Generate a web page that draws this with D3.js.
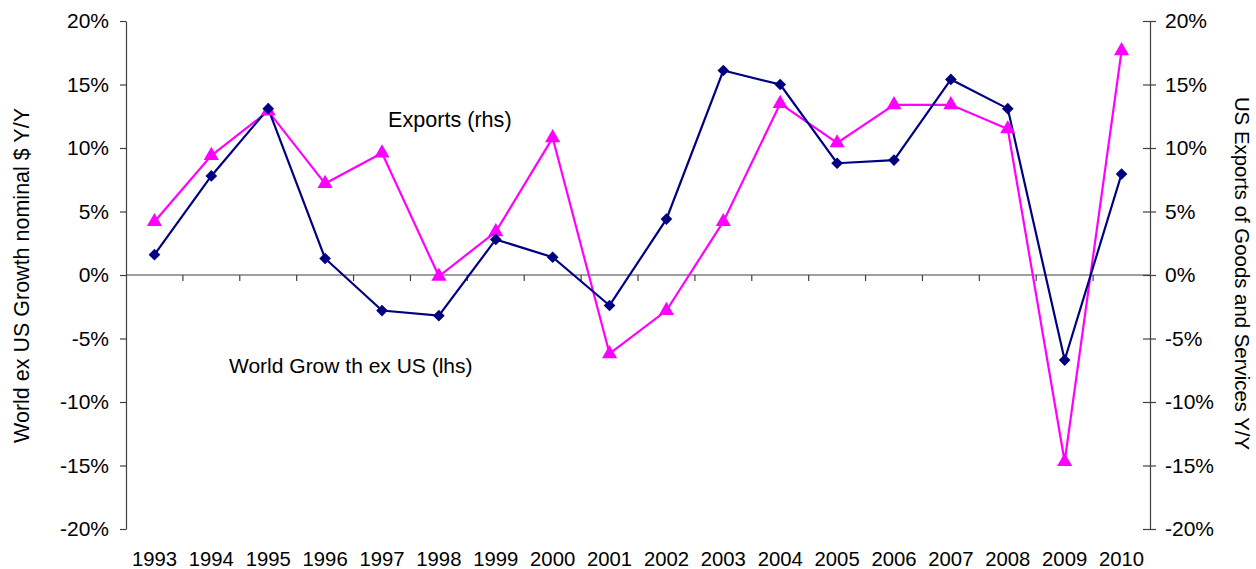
<!DOCTYPE html>
<html>
<head>
<meta charset="utf-8">
<script src="https://cdn.jsdelivr.net/npm/d3@7"></script>
<style>
  html, body { margin: 0; padding: 0; background: #fff; }
  svg { display: block; font-family: "Liberation Sans", Arial, sans-serif; }
</style>
</head>
<body>
<svg id="chart" width="1256" height="569"></svg>
<script>
// Annual growth rates, percent
const years = [1993, 1994, 1995, 1996, 1997, 1998, 1999, 2000, 2001, 2002,
               2003, 2004, 2005, 2006, 2007, 2008, 2009, 2010];
const worldExUS = [1.6, 7.8, 13.1, 1.3, -2.8, -3.2, 2.8, 1.4, -2.4, 4.4,
                   16.1, 15.0, 8.8, 9.05, 15.4, 13.1, -6.7, 7.95];
const usExports = [4.2, 9.4, 12.9, 7.2, 9.6, -0.1, 3.4, 10.8, -6.2, -2.8,
                   4.2, 13.5, 10.4, 13.4, 13.4, 11.5, -14.7, 17.65];
const tickValues = [-20, -15, -10, -5, 0, 5, 10, 15, 20];

const svg = d3.select("#chart");
const plot = { left: 126, right: 1150, top: 21, bottom: 529 };

const x = d3.scaleBand().domain(years).range([plot.left, plot.right]).paddingInner(0).paddingOuter(0);
const cx = d => x(d) + x.bandwidth() / 2;
const yL = d3.scaleLinear().domain([-20, 20]).range([plot.bottom, plot.top]);
const yR = d3.scaleLinear().domain([-20, 20]).range([plot.bottom, plot.top]);

const fmt = d => d + "%";
const axisColor = "#404040";
const fontSize = 21;

// Left axis
const gL = svg.append("g").attr("transform", `translate(${plot.left},0)`)
  .call(d3.axisLeft(yL).tickValues(tickValues).tickFormat(fmt).tickSizeInner(6).tickSizeOuter(0).tickPadding(11));
// Right axis (ticks cross the line)
const gR = svg.append("g").attr("transform", `translate(${plot.right},0)`)
  .call(d3.axisRight(yR).tickValues(tickValues).tickFormat(fmt).tickSizeInner(6).tickSizeOuter(0).tickPadding(9));
gR.selectAll(".tick line").attr("x1", -7);

[gL, gR].forEach(g => {
  g.select(".domain").attr("stroke", axisColor).attr("stroke-width", 1.2);
  g.selectAll(".tick line").attr("stroke", axisColor).attr("stroke-width", 1.2);
  g.selectAll(".tick text").attr("fill", "#000").style("font-size", fontSize + "px")
    .style("font-family", "'Liberation Sans', Arial, sans-serif");
});

// Category axis along zero
const y0 = yL(0);
const gX = svg.append("g");
gX.append("line").attr("x1", plot.left).attr("x2", plot.right)
  .attr("y1", y0).attr("y2", y0).attr("stroke", axisColor).attr("stroke-width", 1.2);
gX.selectAll("line.xt").data(years.slice(1)).join("line").attr("class", "xt")
  .attr("x1", d => x(d)).attr("x2", d => x(d))
  .attr("y1", y0).attr("y2", y0 + 6).attr("stroke", axisColor).attr("stroke-width", 1.2);
svg.append("g").selectAll("text").data(years).join("text")
  .attr("x", d => cx(d)).attr("y", 566)
  .attr("text-anchor", "middle").style("font-size", "20.3px").attr("fill", "#000")
  .text(d => d);

// Axis titles
svg.append("text").attr("transform", "translate(29,275.5) rotate(-90)")
  .attr("text-anchor", "middle").style("font-size", "21.5px").attr("fill", "#000")
  .text("World ex US Growth nominal $ Y/Y");
svg.append("text").attr("transform", "translate(1235,273.5) rotate(90)")
  .attr("text-anchor", "middle").style("font-size", "20.4px").attr("fill", "#000")
  .text("US Exports of Goods and Services Y/Y");

// Series lines
const navy = "#000080", magenta = "#FF00FF";
const lineL = d3.line().x((d, i) => cx(years[i])).y(d => yL(d));
const lineR = d3.line().x((d, i) => cx(years[i])).y(d => yR(d));

svg.append("path").datum(usExports).attr("d", lineR)
  .attr("fill", "none").attr("stroke", magenta).attr("stroke-width", 2.2);
svg.append("path").datum(worldExUS).attr("d", lineL)
  .attr("fill", "none").attr("stroke", navy).attr("stroke-width", 2.2);

// Markers
svg.append("g").selectAll("path").data(usExports).join("path")
  .attr("transform", (d, i) => `translate(${cx(years[i])},${yR(d)})`)
  .attr("d", d3.symbol().type(d3.symbolTriangle).size(100))
  .attr("fill", magenta);
svg.append("g").selectAll("path").data(worldExUS).join("path")
  .attr("transform", (d, i) => `translate(${cx(years[i])},${yL(d)}) rotate(45)`)
  .attr("d", d3.symbol().type(d3.symbolSquare).size(68))
  .attr("fill", navy);

// Series annotations
svg.append("text").attr("x", 388).attr("y", 127).style("font-size", "21.6px").attr("fill", "#000")
  .text("Exports (rhs)");
svg.append("text").attr("x", 229).attr("y", 373).style("font-size", "21px").attr("fill", "#000")
  .attr("xml:space", "preserve").style("white-space", "pre")
  .text("World Grow th ex US (lhs)");
</script>
</body>
</html>
